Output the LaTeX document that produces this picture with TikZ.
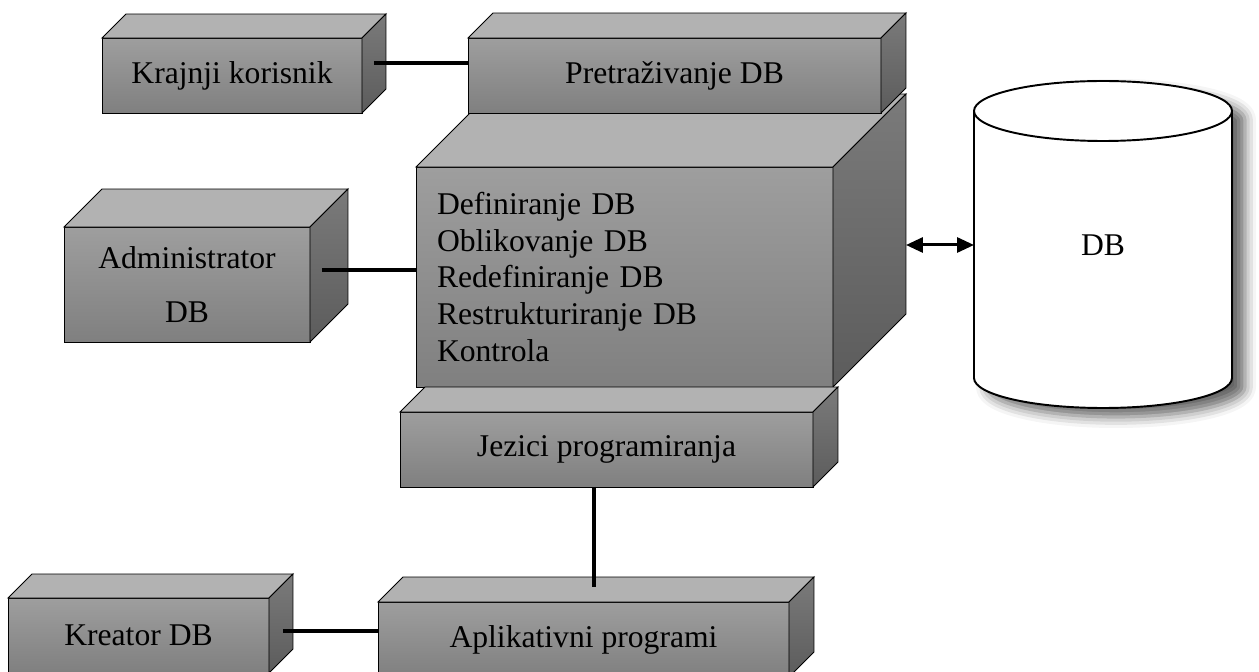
\documentclass[tikz,border=0pt]{standalone}
\usepackage{fontspec}
\setmainfont{Liberation Serif}
\usetikzlibrary{arrows.meta,calc,shadows.blur}
\definecolor{licegore}{gray}{0.62}
\definecolor{licedolje}{gray}{0.50}
\definecolor{vrh}{gray}{0.70}
\definecolor{bokgore}{gray}{0.48}
\definecolor{bokdolje}{gray}{0.36}
\tikzset{
  kutija/.style={draw, line width=0.5pt, top color=licegore, bottom color=licedolje,
    inner sep=0pt, outer sep=0pt, font=\fontsize{18}{21}\selectfont},
  vrhstrana/.style={draw, line width=0.5pt, fill=vrh},
  bocna/.style={draw, line width=0.5pt, top color=bokgore, bottom color=bokdolje},
  veza/.style={line width=0.08cm},
  strelica/.style={line width=0.06cm,
    {Triangle[length=0.34cm,width=0.3cm,fill=black]}-{Triangle[length=0.34cm,width=0.3cm,fill=black]}}
}
\begin{document}
\begin{tikzpicture}[x=0.02cm,y=0.02cm]
  \clip (0,0) rectangle (1259,-672);
  %korisnici lijevo
  \node[kutija, minimum width=4.92cm, minimum height=2.3cm, align=center,
    font=\fontsize{18}{31}\selectfont] (admin) at (187,-284.5) {Administrator\\DB};
  \node[kutija, minimum width=5.2cm, minimum height=1.5cm] (kk) at (232,-75.5) {Krajnji korisnik};
  \foreach \n/\d in {admin/38,kk/24} {
    \draw[vrhstrana] (\n.north west) -- ++(\d,\d) -- ($(\n.north east)+(\d,\d)$) -- (\n.north east) -- cycle;
    \draw[bocna] (\n.north east) -- ++(\d,\d) -- ($(\n.south east)+(\d,\d)$) -- (\n.south east) -- cycle;
  }
  %glavni blok
  \node[kutija, minimum width=8.34cm, minimum height=4.4cm, text width=7.5cm,
    inner xsep=0.42cm, align=left] (glavni) at (624.5,-277)
    {Definiranje DB\\Oblikovanje DB\\Redefiniranje DB\\Restrukturiranje DB\\Kontrola};
  \foreach \n/\d in {glavni/73} {
    \draw[vrhstrana] (\n.north west) -- ++(\d,\d) -- ($(\n.north east)+(\d,\d)$) -- (\n.north east) -- cycle;
    \draw[bocna] (\n.north east) -- ++(\d,\d) -- ($(\n.south east)+(\d,\d)$) -- (\n.south east) -- cycle;
  }
  %ostali blokovi
  \node[kutija, minimum width=8.26cm, minimum height=1.5cm] (pret) at (674.5,-75.5) {Pretraživanje DB};
  \node[kutija, minimum width=8.26cm, minimum height=1.5cm] (jezici) at (606.5,-449.5) {Jezici programiranja};
  \node[kutija, minimum width=5.22cm, minimum height=1.5cm] (kreator) at (138.5,-635.5) {Kreator DB};
  \node[kutija, minimum width=8.22cm, minimum height=1.5cm] (apl) at (583.5,-639.5) {Aplikativni programi};
  \foreach \n/\d in {pret/25,jezici/25,kreator/24,apl/25} {
    \draw[vrhstrana] (\n.north west) -- ++(\d,\d) -- ($(\n.north east)+(\d,\d)$) -- (\n.north east) -- cycle;
    \draw[bocna] (\n.north east) -- ++(\d,\d) -- ($(\n.south east)+(\d,\d)$) -- (\n.south east) -- cycle;
  }
  %baza
  \filldraw[fill=white, line width=1.1pt,
    blur shadow={shadow xshift=0.26cm, shadow yshift=-0.18cm, shadow blur radius=0.22cm, shadow opacity=60}]
    (974,-111) -- (974,-378) arc (180:360:129 and 30) -- (1232,-111) arc (0:180:129 and 30) -- cycle;
  \draw[line width=1.1pt] (974,-111) arc (180:360:129 and 30);
  \node[minimum width=5.16cm, minimum height=6.52cm, inner sep=0pt, outer sep=0pt,
    font=\fontsize{18}{21}\selectfont] (db) at (1103,-245) {DB};
  %veze
  \coordinate (kkR) at ($(kk.east)+(12,12)$);
  \draw[veza] (kkR) -- (kkR -| pret.west);
  \coordinate (adminR) at ($(admin.east)+(12,14.5)$);
  \draw[veza] (adminR) -- (adminR -| glavni.west);
  \coordinate (krR) at ($(kreator.east)+(14,4.5)$);
  \draw[veza] (krR) -- (krR -| apl.west);
  \coordinate (jezD) at ($(jezici.south)+(-12.5,0)$);
  \draw[veza] (jezD) -- ($(jezD |- apl.north)+(0,15)$);
  \coordinate (glavniR) at ($(glavni.south east)+(73,73)$);
  \draw[strelica] (glavniR |- db.west) -- (db.west);
\end{tikzpicture}
\end{document}
